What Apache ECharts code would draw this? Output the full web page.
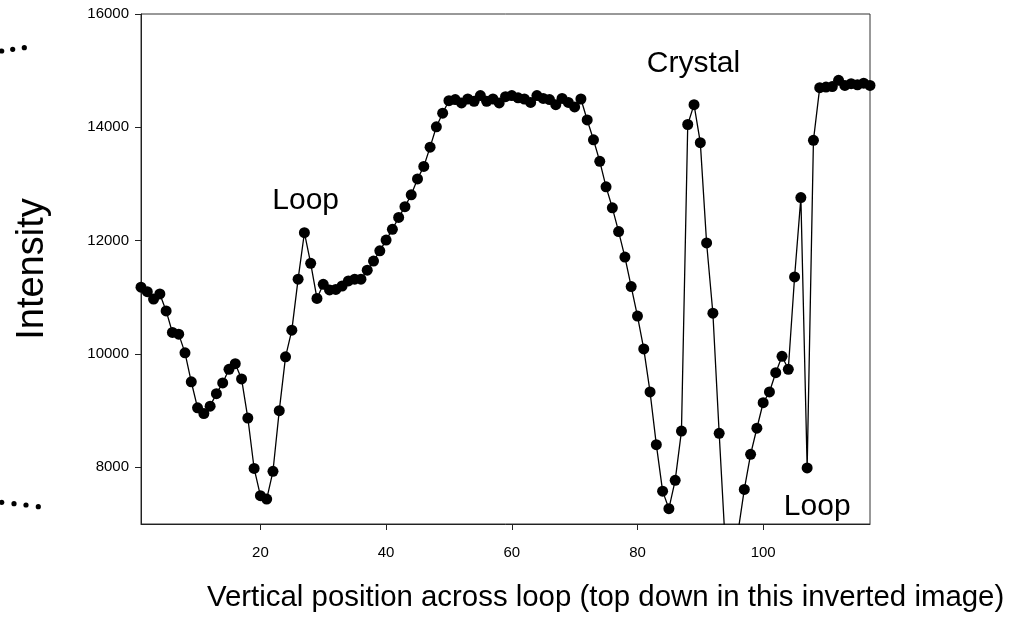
<!DOCTYPE html>
<html>
<head>
<meta charset="utf-8">
<script src="https://cdn.jsdelivr.net/npm/echarts@6/dist/echarts.min.js"></script>
<style>
  html, body { margin: 0; padding: 0; background: #fff; }
  #chart { width: 1014px; height: 624px; }
</style>
</head>
<body>
<div id="chart"></div>
<script>
// intensity, one value per position 1..117
const intensity = [
  11180, 11100, 10970, 11060, 10760, 10380, 10350, 10020, 9510, 9050,
  8950, 9080, 9300, 9490, 9730, 9830, 9560, 8870, 7980, 7500,
  7440, 7930, 9000, 9950, 10420, 11320, 12140, 11600, 10980, 11230,
  11130, 11140, 11200, 11290, 11320, 11320, 11480, 11640, 11820, 12010,
  12200, 12410, 12600, 12810, 13090, 13310, 13650, 14010, 14250, 14470,
  14490, 14430, 14500, 14460, 14560, 14460, 14500, 14430, 14540, 14560,
  14520, 14500, 14440, 14560, 14510, 14490, 14400, 14510, 14440, 14360,
  14500, 14130, 13780, 13400, 12950, 12580, 12160, 11710, 11190, 10670,
  10090, 9330, 8400, 7580, 7270, 7770, 8640, 14050, 14400, 13730,
  11960, 10720, 8600, 6580, 6200, 6860, 7610, 8230, 8690, 9140,
  9330, 9670, 9960, 9730, 11360, 12760, 7990, 13770, 14700, 14710,
  14720, 14830, 14740, 14770, 14750, 14780, 14740
];
const xTicks = [20, 40, 60, 80, 100];
const yTicks = [8000, 10000, 12000, 14000, 16000];

// annotations, in data coordinates
const noteText = ['Loop', 'Crystal', 'Loop'];
const noteX = [27.2, 88.9, 108.6];
const noteY = [12710, 15130, 7310];

const FONT = 'Liberation Sans, Arial, sans-serif';
const INK = '#000';

const chart = echarts.init(document.getElementById('chart'));

chart.setOption({
  animation: false,
  grid: {
    left: 141, right: 144, top: 14, bottom: 100,
    show: true, borderColor: '#333', borderWidth: 1
  },
  xAxis: {
    type: 'value',
    min: 1,
    max: 117,
    axisLine: { show: true, lineStyle: { color: '#222', width: 1 } },
    axisTick: { show: true, customValues: xTicks, length: 6, lineStyle: { color: '#222' } },
    axisLabel: { customValues: xTicks, color: INK, fontSize: 15, fontFamily: FONT, margin: 21 },
    splitLine: { show: false }
  },
  yAxis: {
    type: 'value',
    min: 7000,
    max: 16000,
    name: 'Intensity',
    nameLocation: 'middle',
    nameGap: 89,
    nameTextStyle: { color: INK, fontSize: 38, fontFamily: FONT },
    axisLine: { show: true, lineStyle: { color: '#222', width: 1 } },
    axisTick: { show: true, customValues: yTicks, length: 6, lineStyle: { color: '#222' } },
    axisLabel: {
      customValues: yTicks, color: INK, fontSize: 15, fontFamily: FONT, margin: 12,
      formatter: v => String(v)
    },
    splitLine: { show: false }
  },
  series: [
    {
      type: 'line',
      data: intensity.map((v, i) => [i + 1, v]),
      symbol: 'circle',
      symbolSize: 11,
      clip: true,
      itemStyle: { color: INK },
      lineStyle: { color: INK, width: 1.3 },
      emphasis: { disabled: true }
    },
    {
      type: 'scatter',
      data: noteText.map((t, i) => ({ name: t, value: [noteX[i], noteY[i]] })),
      symbolSize: 1,
      itemStyle: { color: 'rgba(0,0,0,0)', opacity: 1 },
      label: {
        show: true, position: 'inside', formatter: '{b}',
        color: INK, fontSize: 30, fontFamily: FONT, textBorderWidth: 0
      },
      emphasis: { disabled: true }
    }
  ],
  graphic: [
    {
      type: 'text', left: 207, top: 583,
      style: {
        text: 'Vertical position across loop (top down in this inverted image)',
        fill: INK, fontSize: 29.4, fontFamily: FONT
      }
    },
    // stray dotted leader lines at the left edge of the crop
    { type: 'circle', shape: { cx: 1.7, cy: 51, r: 2.6 }, style: { fill: INK } },
    { type: 'circle', shape: { cx: 12.7, cy: 49.3, r: 2.6 }, style: { fill: INK } },
    { type: 'circle', shape: { cx: 24.3, cy: 47.7, r: 2.6 }, style: { fill: INK } },
    { type: 'circle', shape: { cx: 1.7, cy: 502.3, r: 2.6 }, style: { fill: INK } },
    { type: 'circle', shape: { cx: 14, cy: 503.7, r: 2.6 }, style: { fill: INK } },
    { type: 'circle', shape: { cx: 26, cy: 505, r: 2.6 }, style: { fill: INK } },
    { type: 'circle', shape: { cx: 38.3, cy: 506.7, r: 2.6 }, style: { fill: INK } }
  ]
});
</script>
</body>
</html>
